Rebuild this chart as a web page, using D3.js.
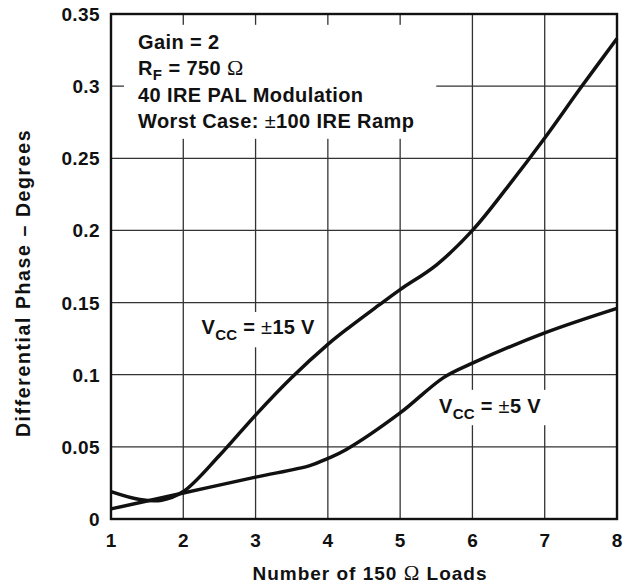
<!DOCTYPE html>
<html>
<head>
<meta charset="utf-8">
<script src="https://cdn.jsdelivr.net/npm/d3@7"></script>
<style>
  html, body { margin: 0; padding: 0; background: #fff; }
  svg { display: block; font-family: "Liberation Sans", Arial, sans-serif; font-weight: bold; }
</style>
</head>
<body>
<svg id="chart" width="628" height="586"></svg>
<script>
// ---- data ----
const xTicks = [1, 2, 3, 4, 5, 6, 7, 8];
const yTicks = [0, 0.05, 0.1, 0.15, 0.2, 0.25, 0.3, 0.35];
const yTickLabels = ["0", "0.05", "0.1", "0.15", "0.2", "0.25", "0.3", "0.35"];

const loads15 = [1, 1.4, 1.7, 2, 2.5, 3, 3.5, 4, 4.3, 4.7, 5, 5.5, 6, 6.5, 7, 7.5, 8];
const phase15 = [0.019, 0.0135, 0.013, 0.019, 0.044, 0.072, 0.098, 0.121, 0.133, 0.148, 0.159, 0.176, 0.200, 0.231, 0.264, 0.299, 0.333];

const loads5 = [1, 2, 3, 3.75, 4, 4.25, 5, 5.6, 6, 7, 8];
const phase5 = [0.007, 0.018, 0.029, 0.037, 0.042, 0.048, 0.0735, 0.098, 0.108, 0.129, 0.146];

const annotation = ["Gain = 2", "R|F| = 750 |Ω", "40 IRE PAL Modulation", "Worst Case: |±|100 IRE Ramp"];

// ---- chart ----
const svg = d3.select("#chart");
const x = d3.scaleLinear().domain([1, 8]).range([111, 617]);
const y = d3.scaleLinear().domain([0, 0.35]).range([519, 14]);

const grid = svg.append("g");
grid.selectAll("line.v").data(xTicks.slice(1, -1)).join("line")
  .attr("x1", d => x(d)).attr("x2", d => x(d))
  .attr("y1", y(0.35)).attr("y2", y(0))
  .attr("stroke", "#333").attr("stroke-width", 1.3);
grid.selectAll("line.h").data(yTicks.slice(1, -1)).join("line")
  .attr("x1", x(1)).attr("x2", x(8))
  .attr("y1", d => y(d)).attr("y2", d => y(d))
  .attr("stroke", "#333").attr("stroke-width", 1.3);

// white label backgrounds
const boxes = [
  {x0: 1.18, x1: 5.5, y0: 0.3425, y1: 0.2635},
  {x0: 2.16, x1: 3.93, y0: 0.1435, y1: 0.119},
  {x0: 5.44, x1: 7.1, y0: 0.0895, y1: 0.065}
];
svg.append("g").selectAll("rect").data(boxes).join("rect")
  .attr("x", d => x(d.x0)).attr("width", d => x(d.x1) - x(d.x0))
  .attr("y", d => y(d.y0)).attr("height", d => y(d.y1) - y(d.y0))
  .attr("fill", "#fff");

// frame
svg.append("rect").attr("x", x(1)).attr("y", y(0.35))
  .attr("width", x(8) - x(1)).attr("height", y(0) - y(0.35))
  .attr("fill", "none").attr("stroke", "#111").attr("stroke-width", 2.4);

// curves
const line = d3.line().x(d => x(d[0])).y(d => y(d[1])).curve(d3.curveCatmullRom.alpha(0.5));
const s15 = loads15.map((l, i) => [l, phase15[i]]);
const s5 = loads5.map((l, i) => [l, phase5[i]]);
svg.append("g").selectAll("path").data([s15, s5]).join("path")
  .attr("d", line).attr("fill", "none").attr("stroke", "#111")
  .attr("stroke-width", 3.5).attr("stroke-linejoin", "round");

// tick labels
svg.append("g").selectAll("text").data(yTicks).join("text")
  .attr("x", 100).attr("y", d => y(d) + 7)
  .attr("text-anchor", "end").attr("font-size", 19).attr("letter-spacing", 0.4)
  .attr("fill", "#111")
  .text((d, i) => yTickLabels[i]);
svg.append("g").selectAll("text").data(xTicks).join("text")
  .attr("x", d => x(d)).attr("y", 547)
  .attr("text-anchor", "middle").attr("font-size", 19)
  .attr("fill", "#111")
  .text(d => d);

// axis titles
const xt = svg.append("text").attr("x", 370).attr("y", 580)
  .attr("text-anchor", "middle").attr("font-size", 19).attr("letter-spacing", 1)
  .attr("fill", "#111");
xt.append("tspan").text("Number of 150 ");
xt.append("tspan").attr("font-weight", "normal").attr("font-family", "Liberation Serif").attr("font-size", 21).text("Ω");
xt.append("tspan").text(" Loads");

svg.append("text").attr("transform", "translate(29.5,283) rotate(-90)")
  .attr("text-anchor", "middle").attr("font-size", 19.5).attr("letter-spacing", 1.6)
  .attr("fill", "#111")
  .text("Differential Phase – Degrees");

// annotation
const ann = svg.append("g").attr("font-size", 20).attr("fill", "#111");
annotation.forEach((s, i) => {
  const t = ann.append("text").attr("x", 138).attr("y", 49 + i * 26.4).attr("letter-spacing", 0.4);
  const parts = s.split("|");
  if (i === 1) {
    t.append("tspan").text(parts[0]);
    t.append("tspan").attr("dy", 5).attr("font-size", 15).text(parts[1]);
    t.append("tspan").attr("dy", -5).text(parts[2]);
    t.append("tspan").attr("font-weight", "normal").attr("font-family", "Liberation Serif").attr("font-size", 22).text(parts[3]);
  } else if (i === 3) {
    t.append("tspan").text(parts[0]);
    t.append("tspan").attr("font-weight", "normal").text(parts[1]);
    t.append("tspan").text(parts[2]);
  } else {
    t.text(s);
  }
});

// series labels
const seriesLabels = [
  {lx: 201.5, ly: 333.5, volts: "15 V"},
  {lx: 439, ly: 413, volts: "5 V"}
];
seriesLabels.forEach(d => {
  const t = svg.append("text").attr("x", d.lx).attr("y", d.ly).attr("font-size", 20).attr("fill", "#111").attr("letter-spacing", 0.3);
  t.append("tspan").text("V");
  t.append("tspan").attr("dy", 6).attr("font-size", 15).text("CC");
  t.append("tspan").attr("dy", -6).text(" = ");
  t.append("tspan").attr("font-weight", "normal").text("±");
  t.append("tspan").text(d.volts);
});
</script>
</body>
</html>
